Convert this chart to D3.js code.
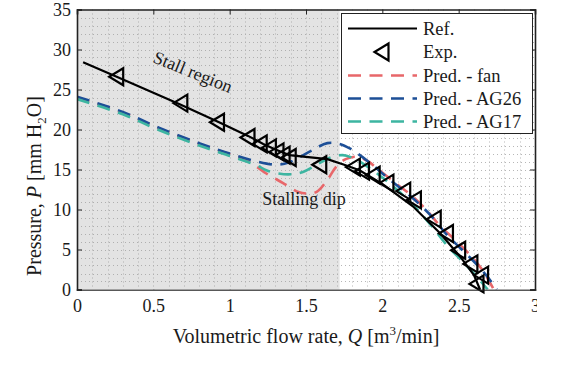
<!DOCTYPE html>
<html><head><meta charset="utf-8">
<script src="https://cdn.jsdelivr.net/npm/d3@7"></script>
<style>
body{margin:0;background:#fff;}
text{font-family:"Liberation Serif","Times New Roman",serif;fill:#1a1a1a;}
</style></head>
<body><svg id="c" width="568" height="366"></svg>
<script>
// ---- data ----
const refQ = [0.04,0.26,0.68,0.92,1.12,1.22,1.30,1.39,1.64,1.75,1.85,2.00,2.20,2.38,2.51,2.60,2.64];
const refP = [28.4,26.6,23.1,21.0,19.2,18.2,17.5,16.8,16.3,15.6,14.9,13.2,10.4,7.0,4.1,1.8,0];
const expQ = [0.26,0.68,0.92,1.12,1.20,1.26,1.31,1.35,1.39,1.59,1.81,1.87,1.94,2.03,2.14,2.21,2.34,2.42,2.50,2.58,2.65,2.62];
const expP = [26.6,23.3,20.9,19.0,18.2,17.7,17.2,16.8,16.5,15.6,15.3,14.8,14.3,13.3,12.3,11.2,8.8,7.0,4.9,3.2,1.8,0.7];
const fanQ = [0,0.3,0.54,0.8,1.0,1.1,1.18,1.24,1.35,1.45,1.52,1.57,1.64,1.70,1.76,1.83,1.90,1.98,2.1,2.2,2.3,2.38,2.46,2.53,2.6,2.66,2.73];
const fanP = [24.0,22.1,20.1,18.2,16.9,16.2,15.3,14.5,13.3,12.2,12.0,12.2,13.7,15.4,16.3,16.6,16.1,14.9,13.1,11.6,9.7,7.9,6.5,5.2,3.8,2.3,0];
const ag26Q = [0,0.3,0.54,0.8,1.0,1.18,1.31,1.39,1.53,1.64,1.72,1.79,1.92,2.05,2.2,2.32,2.42,2.52,2.6,2.68,2.75];
const ag26P = [24.1,22.2,20.2,18.3,17.0,16.0,15.6,15.9,17.3,18.3,18.2,17.6,15.8,13.7,11.4,9.2,6.9,5.0,3.5,1.8,0];
const ag17Q = [0,0.3,0.54,0.8,1.0,1.18,1.24,1.32,1.40,1.48,1.57,1.66,1.74,1.80,1.90,2.0,2.1,2.2,2.32,2.42,2.52,2.6,2.69];
const ag17P = [23.8,21.9,19.9,18.0,16.7,15.5,14.9,14.5,14.4,14.7,15.6,16.5,16.8,16.5,15.4,14.0,12.4,10.6,8.0,5.6,3.6,2.0,0];
const xTicks = [0,0.5,1,1.5,2,2.5,3];
const xTickLabels = ["0","0.5","1","1.5","2","2.5","3"];
const yTicks = [0,5,10,15,20,25,30,35];
const stallEnd = 1.72;
const seriesNames = ["Ref.","Exp.","Pred. - fan","Pred. - AG26","Pred. - AG17"];
const colors = {fan:"#e8676a", ag26:"#1d4f97", ag17:"#3db5a1"};

// ---- chart ----
const svg = d3.select("#c");
const x = d3.scaleLinear([0,3],[77,535]);
const y = d3.scaleLinear([0,35],[289.5,9.5]);
const [x0,x1] = x.range(), [y0,y1] = y.range();

const defs = svg.append("defs");
defs.append("clipPath").attr("id","plot").append("rect")
  .attr("x",x0).attr("y",y1).attr("width",x1-x0).attr("height",y0-y1);
defs.append("clipPath").attr("id","page").append("rect")
  .attr("x",0).attr("y",0).attr("width",537).attr("height",366);

// stall shading
svg.append("rect").attr("x",x(0)).attr("y",y1).attr("width",x(stallEnd)-x(0)).attr("height",y0-y1).attr("fill","#e3e3e3");

// grid (minor dotted)
const grid = svg.append("g").attr("stroke","#9a9a9a").attr("stroke-width",1).attr("stroke-dasharray","1,3").attr("opacity",0.7);
grid.selectAll("line.v").data(d3.range(1,30).map(i=>i/10)).join("line")
  .attr("x1",d=>Math.round(x(d))+0.5).attr("x2",d=>Math.round(x(d))+0.5).attr("y1",y1).attr("y2",y0);
grid.selectAll("line.h").data(d3.range(1,35)).join("line")
  .attr("y1",d=>Math.round(y(d))+0.5).attr("y2",d=>Math.round(y(d))+0.5).attr("x1",x0).attr("x2",x1);

const plot = svg.append("g").attr("clip-path","url(#plot)");
const smooth = d3.line().x(d=>x(d[0])).y(d=>y(d[1])).curve(d3.curveCatmullRom.alpha(0.5));
const straight = d3.line().x(d=>x(d[0])).y(d=>y(d[1]));
const dash = "13,8.5";

[[fanQ,fanP,colors.fan],[ag26Q,ag26P,colors.ag26],[ag17Q,ag17P,colors.ag17]].forEach(([q,p,c])=>{
  plot.append("path").datum(q.map((v,i)=>[v,p[i]])).attr("d",smooth)
    .attr("fill","none").attr("stroke",c).attr("stroke-width",2.6).attr("stroke-dasharray",dash);
});
plot.append("path").datum(refQ.map((v,i)=>[v,refP[i]])).attr("d",straight)
  .attr("fill","none").attr("stroke","#000").attr("stroke-width",2.2);

const tri = "M-7.5,0L6.5,-8.5L6.5,8.5Z";
svg.append("g").selectAll("path").data(expQ.map((v,i)=>[v,expP[i]])).join("path")
  .attr("d",tri).attr("transform",d=>`translate(${x(d[0])},${y(d[1])})`)
  .attr("fill","none").attr("stroke","#000").attr("stroke-width",2.2).attr("stroke-linejoin","miter");

// axes
const fs = 18;
svg.append("g").attr("transform",`translate(0,${y0})`).attr("clip-path","url(#page)")
  .call(d3.axisBottom(x).tickValues(xTicks).tickFormat((d,i)=>xTickLabels[i]).tickSize(-5).tickPadding(10));
svg.append("g").attr("transform",`translate(0,${y1})`).call(d3.axisTop(x).tickValues(xTicks).tickFormat("").tickSize(-5));
svg.append("g").attr("transform",`translate(${x0},0)`)
  .call(d3.axisLeft(y).tickValues(yTicks).tickSize(-5).tickPadding(6));
svg.append("g").attr("transform",`translate(${x1},0)`).call(d3.axisRight(y).tickValues(yTicks).tickFormat("").tickSize(-5));
svg.selectAll(".domain").attr("stroke","#222").attr("stroke-width",1.6);
svg.selectAll(".tick line").attr("stroke","#222").attr("stroke-width",1);
svg.selectAll(".tick text").attr("font-family","Liberation Serif").attr("font-size",fs).attr("fill","#1a1a1a");

// axis labels
const xl = svg.append("text").attr("x",306).attr("y",343).attr("text-anchor","middle").attr("font-size",20);
xl.append("tspan").text("Volumetric flow rate, ");
xl.append("tspan").attr("font-style","italic").text("Q");
xl.append("tspan").text(" [m");
xl.append("tspan").attr("dy",-8).attr("font-size",13).text("3");
xl.append("tspan").attr("dy",8).text("/min]");

const yl = svg.append("text").attr("transform","translate(41,186) rotate(-90)").attr("text-anchor","middle").attr("font-size",20);
yl.append("tspan").text("Pressure, ");
yl.append("tspan").attr("font-style","italic").text("P");
yl.append("tspan").text(" [mm H");
yl.append("tspan").attr("dy",5).attr("font-size",13).text("2");
yl.append("tspan").attr("dy",-5).text("O]");

// annotations
svg.append("text").attr("transform","translate(193,72) rotate(22)").attr("y",6).attr("text-anchor","middle").attr("font-size",18).text("Stall region");
svg.append("text").attr("x",304).attr("y",205).attr("text-anchor","middle").attr("font-size",18).text("Stalling dip");

// legend
const lg = svg.append("g");
lg.append("rect").attr("x",341.5).attr("y",13.5).attr("width",191).attr("height",120).attr("fill","#fff").attr("stroke","#222").attr("stroke-width",1);
const rows = [28.5,52,75.5,98.5,121.5];
const lx0=348, lx1=417;
lg.append("line").attr("x1",lx0).attr("x2",lx1).attr("y1",rows[0]).attr("y2",rows[0]).attr("stroke","#000").attr("stroke-width",2.2);
lg.append("path").attr("d",tri).attr("transform",`translate(382,${rows[1]})`).attr("fill","none").attr("stroke","#000").attr("stroke-width",2.2);
[colors.fan,colors.ag26,colors.ag17].forEach((c,i)=>{
  lg.append("line").attr("x1",lx0).attr("x2",lx1).attr("y1",rows[i+2]).attr("y2",rows[i+2]).attr("stroke",c).attr("stroke-width",2.6).attr("stroke-dasharray",dash);
});
seriesNames.forEach((n,i)=>{
  lg.append("text").attr("x",423).attr("y",rows[i]+6).attr("font-size",18.5).text(n);
});
</script></body></html>
